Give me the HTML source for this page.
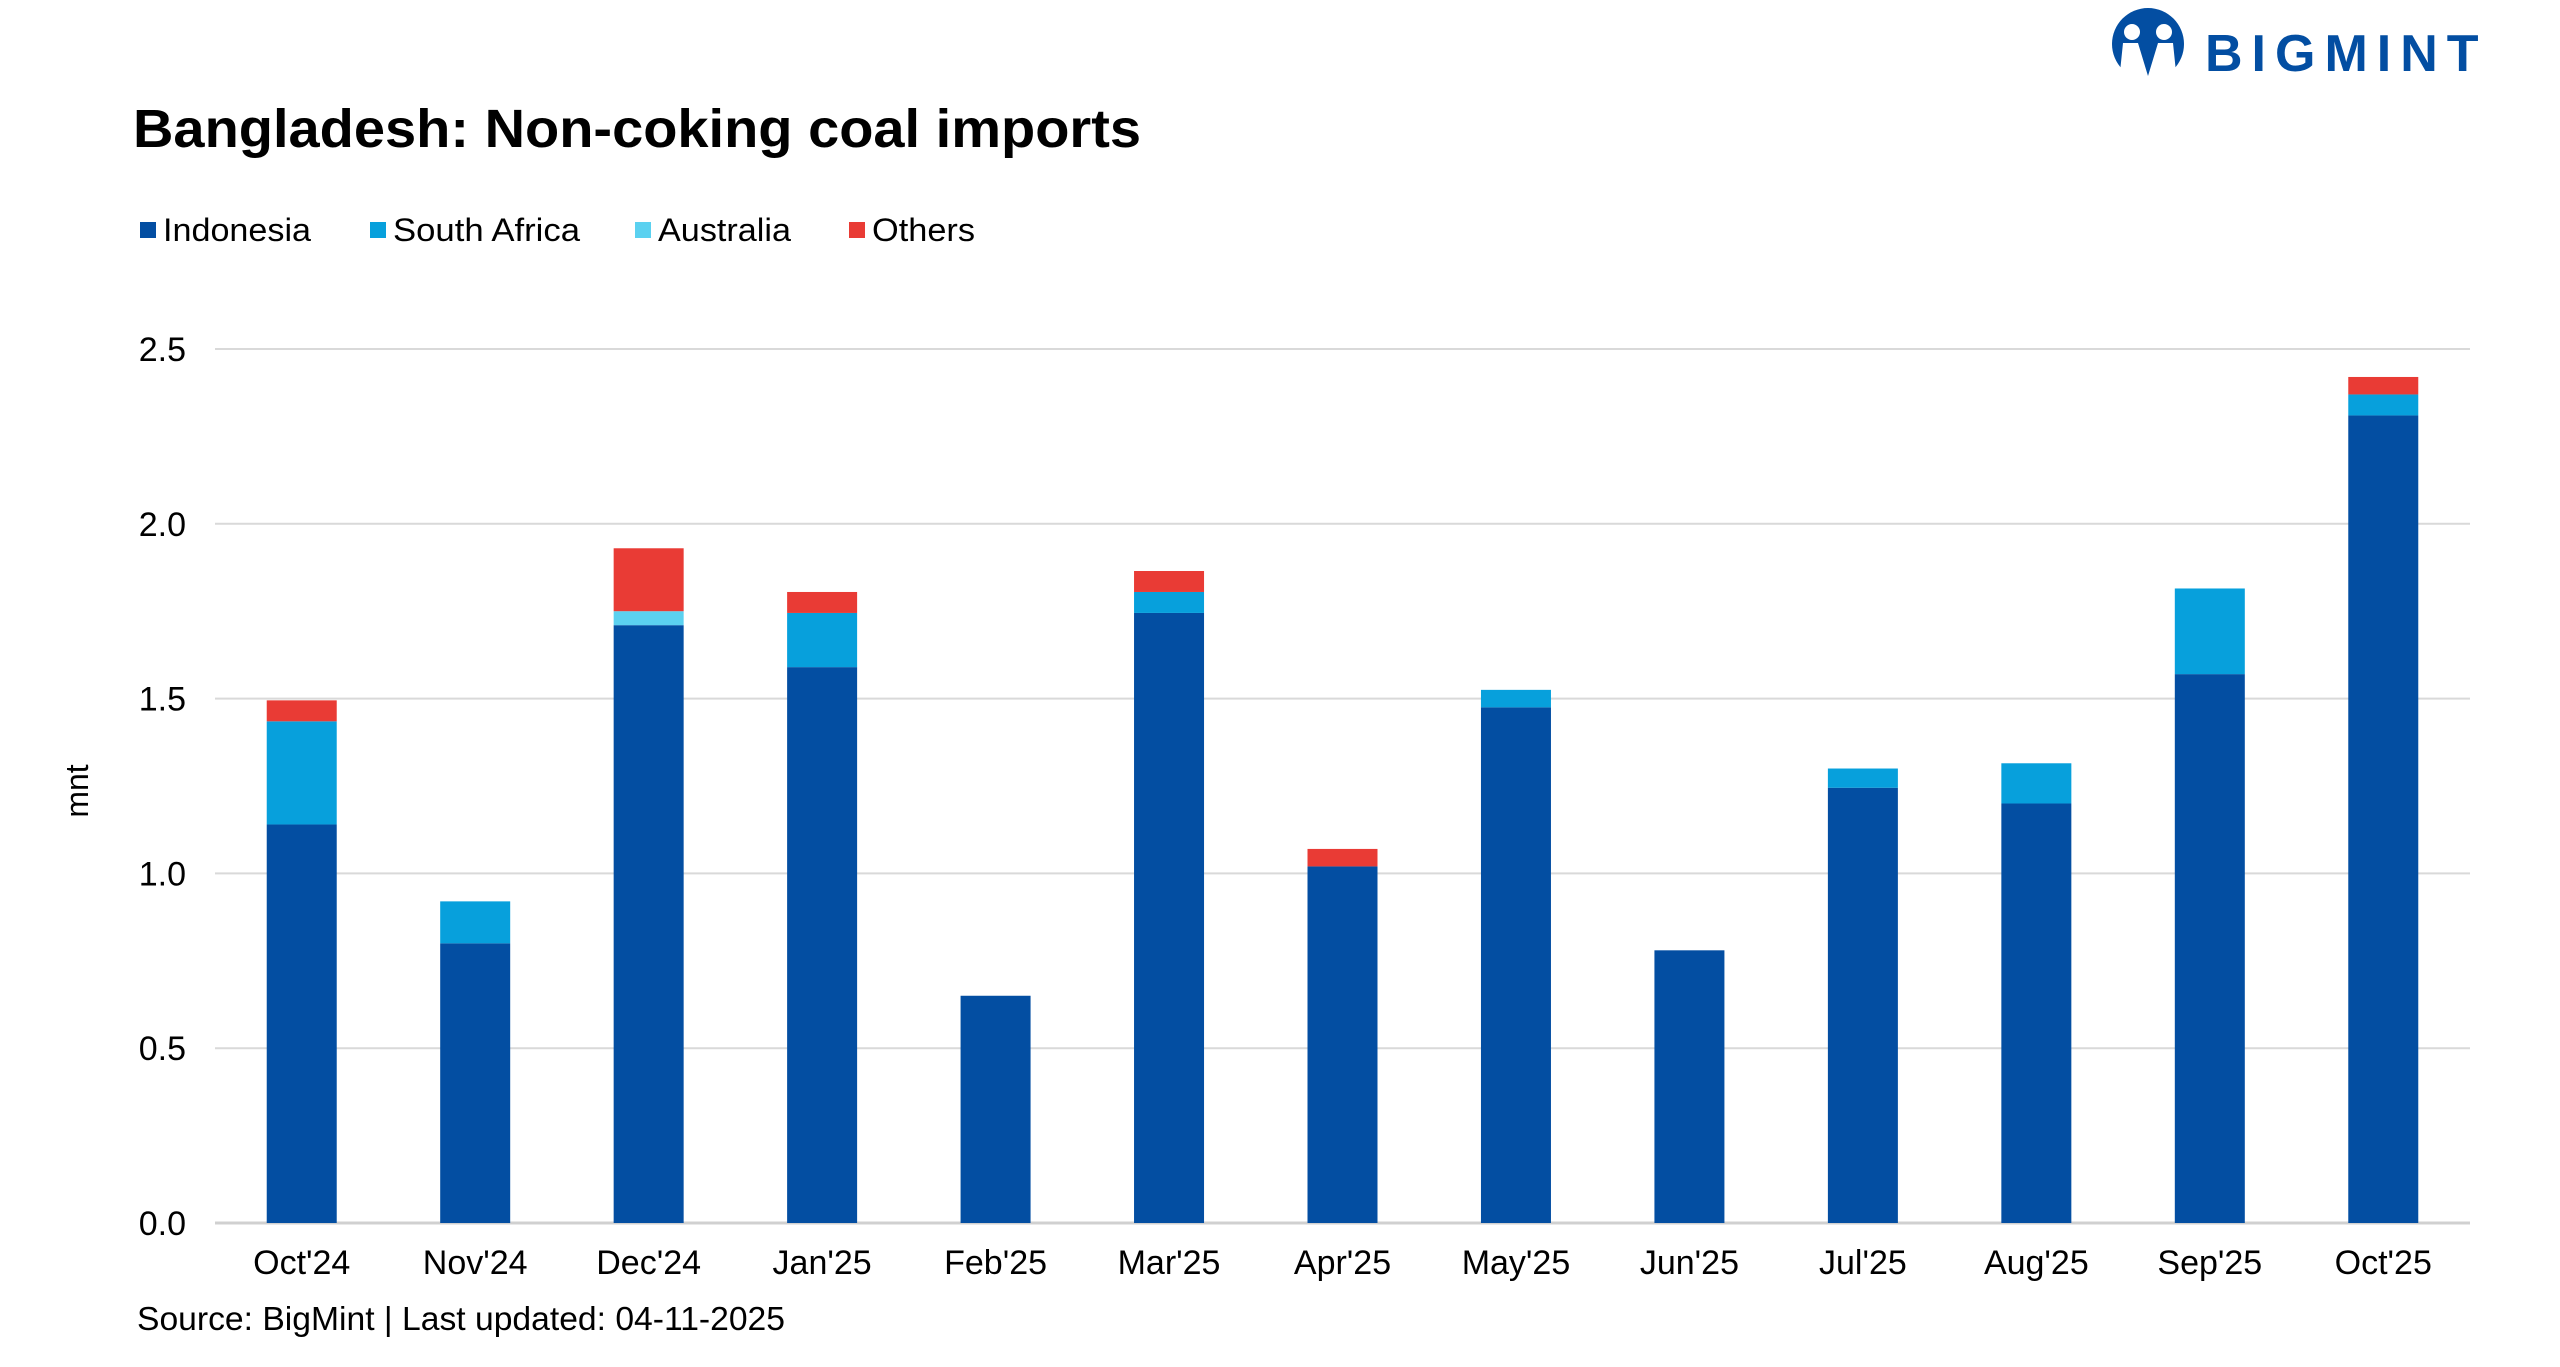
<!DOCTYPE html>
<html><head><meta charset="utf-8"><style>
html,body{margin:0;padding:0;background:#fff;width:2560px;height:1367px;overflow:hidden}
svg{display:block;font-family:"Liberation Sans",Arial,sans-serif}
</style></head><body>
<svg id="chart" width="2560" height="1367" viewBox="0 0 2560 1367">
<g>
  <circle cx="2148" cy="44" r="36" fill="#034ea2"/>
  <circle cx="2132" cy="32" r="8" fill="#fff"/>
  <circle cx="2164" cy="32" r="8" fill="#fff"/>
  <path d="M2123 43 L2138 43 L2148 76 L2158 43 L2173 43 L2176 72 L2180 84 L2116 84 L2120 72 Z" fill="#fff"/>
  <text x="2205" y="71" font-size="52" font-weight="bold" fill="#034ea2" letter-spacing="9">BIGMINT</text>
</g>
<text x="133" y="147" font-size="54" font-weight="bold" fill="#000" textLength="1008" lengthAdjust="spacingAndGlyphs">Bangladesh: Non-coking coal imports</text>
<g id="legend"></g>
<g id="grid"></g>
<g id="bars"></g>
<g id="xlabels"></g>
<text transform="translate(88,791) rotate(-90)" text-anchor="middle" font-size="32" fill="#000">mnt</text>
<text x="137" y="1330" font-size="33" fill="#000" textLength="648" lengthAdjust="spacingAndGlyphs">Source: BigMint | Last updated: 04-11-2025</text>
</svg>
<script>
const categories = ["Oct'24","Nov'24","Dec'24","Jan'25","Feb'25","Mar'25","Apr'25","May'25","Jun'25","Jul'25","Aug'25","Sep'25","Oct'25"];
const indonesia = [1.14,0.80,1.71,1.59,0.65,1.745,1.02,1.475,0.78,1.245,1.20,1.57,2.31];
const southAfrica = [0.295,0.12,0,0.155,0,0.06,0,0.05,0,0.055,0.115,0.245,0.06];
const australia = [0,0,0.04,0,0,0,0,0,0,0,0,0,0];
const others = [0.06,0,0.18,0.06,0,0.06,0.05,0,0,0,0,0,0.05];
const yTicks = [0,0.5,1.0,1.5,2.0,2.5];
const seriesNames = ["Indonesia","South Africa","Australia","Others"];

const NS="http://www.w3.org/2000/svg";
const colors=["#034ea2","#07a0dc","#5bd1f0","#e93b35"];
const series=[indonesia,southAfrica,australia,others];
const left=215,right=2470,y0=1223,y25=349;
const band=(right-left)/categories.length,barW=70;
const yS=v=>y0-(v/2.5)*(y0-y25);
const xC=i=>left+band*(i+0.5);
function mk(tag,attrs,parent){const e=document.createElementNS(NS,tag);for(const k in attrs)e.setAttribute(k,attrs[k]);parent.appendChild(e);return e;}
const grid=document.getElementById('grid');
yTicks.forEach(t=>{
  const l=mk('line',{x1:left,x2:right,y1:yS(t),y2:yS(t),stroke:t===0?'#d0d0d0':'#d9d9d9','stroke-width':t===0?3:2},grid);
  
  
  const tx=mk('text',{x:186,y:yS(t)+12,'text-anchor':'end','font-size':34,fill:'#000'},grid);
  tx.textContent=t.toFixed(1);
  
  
});
const bars=document.getElementById('bars');
categories.forEach((c,i)=>{
  let acc=0;
  series.forEach((s,k)=>{
    const v=s[i];if(!v)return;
    const r=mk('rect',{x:xC(i)-barW/2,y:yS(acc+v),width:barW,height:yS(acc)-yS(acc+v),fill:colors[k]},bars);
    
    
    acc+=v;
  });
  const t=mk('text',{x:xC(i),y:1274,'text-anchor':'middle','font-size':34,fill:'#000'},document.getElementById('xlabels'));
  t.textContent=c;
  
  
});
const lg=document.getElementById('legend');
const lx=[140,370,635,849];
const lw=[148,187,133,103];
seriesNames.forEach((n,k)=>{
  const g=mk('g',{},lg);
  
  
  mk('rect',{x:lx[k],y:222,width:16,height:16,fill:colors[k]},g);
  const t=mk('text',{x:lx[k]+23,y:241,'font-size':32,fill:'#000',textLength:lw[k],lengthAdjust:'spacingAndGlyphs'},g);
  t.textContent=n;
});
</script>
</body></html>
